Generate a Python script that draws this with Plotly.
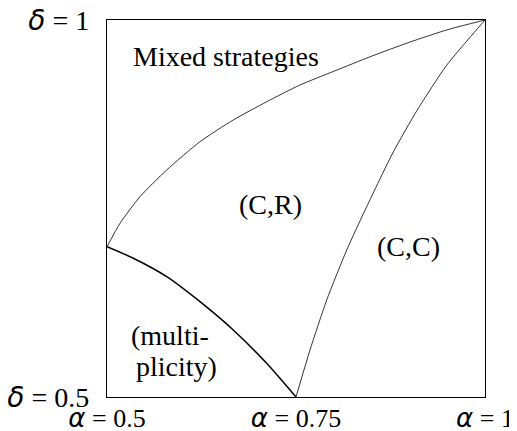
import plotly.graph_objects as go

# Upper boundary: Mixed strategies / (C,R)
upper_alpha = [0.5, 0.5172, 0.5437, 0.579, 0.623, 0.667, 0.7112, 0.7553, 0.8, 0.85, 0.9, 0.95, 1.0]
upper_delta = [0.6993, 0.7304, 0.7657, 0.8011, 0.8386, 0.8674, 0.8916, 0.9138, 0.932, 0.952, 0.9705, 0.987, 1.0]

# Right boundary: (C,R) / (C,C)
right_alpha = [0.75, 0.7685, 0.7906, 0.8171, 0.8435, 0.8787, 0.91, 0.9493, 1.0]
right_delta = [0.5, 0.5623, 0.6286, 0.695, 0.7524, 0.825, 0.88, 0.94, 1.0]

# Lower-left boundary: multiplicity region
lower_alpha = [0.5, 0.5348, 0.579, 0.623, 0.667, 0.7112, 0.75]
lower_delta = [0.6993, 0.684, 0.6596, 0.6264, 0.5889, 0.5447, 0.5]

SYM = "<span style='font-family:DejaVu Sans'><i>{}</i></span>"
x_ticks = [0.5, 0.75, 1.0]
x_ticktext = [SYM.format("α") + " = 0.5", SYM.format("α") + " = 0.75", SYM.format("α") + " = 1"]
y_ticks = [0.5, 1.0]
y_ticktext = [SYM.format("δ") + " = 0.5", SYM.format("δ") + " = 1"]

region_labels = ["Mixed strategies", "(C,R)", "(C,C)", "(multi-", "plicity)"]
region_x = [0.657, 0.716, 0.899, 0.5833, 0.592]
region_y = [0.951, 0.755, 0.699, 0.581, 0.541]

FONT = "Liberation Serif"
SIZE = 28

fig = go.Figure()
fig.add_trace(go.Scatter(x=upper_alpha, y=upper_delta, mode="lines",
                         line=dict(color="black", width=0.8, shape="spline", smoothing=0.6),
                         cliponaxis=False, hoverinfo="skip"))
fig.add_trace(go.Scatter(x=right_alpha, y=right_delta, mode="lines",
                         line=dict(color="black", width=0.8, shape="spline", smoothing=0.6),
                         cliponaxis=False, hoverinfo="skip"))
fig.add_trace(go.Scatter(x=lower_alpha, y=lower_delta, mode="lines",
                         line=dict(color="black", width=1.5, shape="spline", smoothing=0.6),
                         cliponaxis=False, hoverinfo="skip"))

for t, xx, yy in zip(region_labels, region_x, region_y):
    fig.add_annotation(x=xx, y=yy, text=t, showarrow=False,
                       font=dict(family=FONT, size=SIZE, color="black"),
                       xref="x", yref="y", align="center")

# page body adds an 8px offset, so the figure is 8px smaller in each direction
fig.update_layout(
    width=509, height=423,
    margin=dict(l=99, r=32, t=12, b=34),
    paper_bgcolor="white", plot_bgcolor="white",
    showlegend=False,
    font=dict(family=FONT, size=SIZE, color="black"),
)
fig.update_xaxes(range=[0.5, 1.0], tickvals=x_ticks, ticktext=x_ticktext,
                 showgrid=False, zeroline=False, showline=True, mirror=True,
                 linecolor="black", linewidth=1.3, ticks="", ticklen=0,
                 ticklabelstandoff=-2, automargin=False, ticklabeloverflow="allow",
                 tickfont=dict(family=FONT, size=26))
fig.update_yaxes(range=[0.5, 1.0], tickvals=y_ticks, ticktext=y_ticktext,
                 showgrid=False, zeroline=False, showline=True, mirror=True,
                 linecolor="black", linewidth=1.3, ticks="", ticklen=0,
                 ticklabelstandoff=11, automargin=False, ticklabeloverflow="allow",
                 tickfont=dict(family=FONT, size=SIZE))

fig.write_html("out.html")
